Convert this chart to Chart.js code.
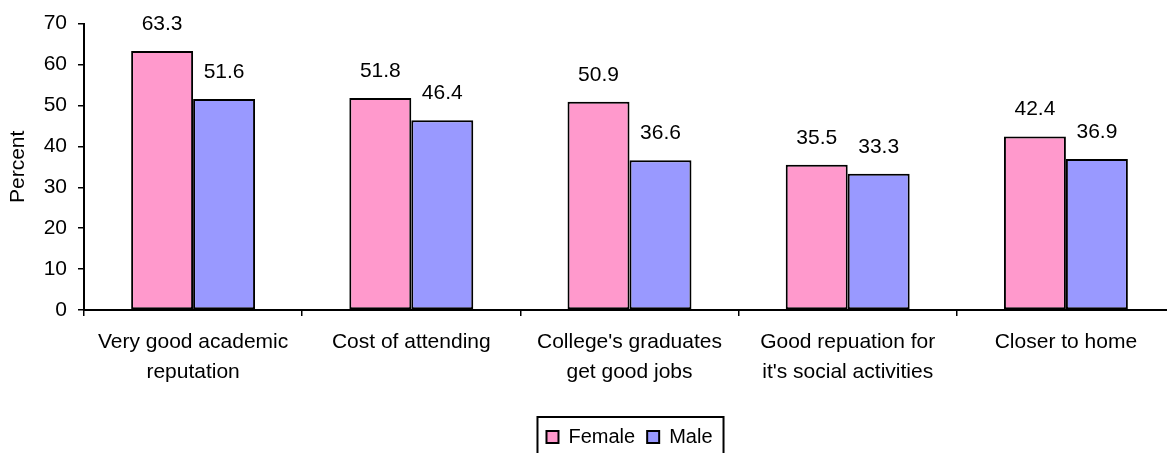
<!DOCTYPE html>
<html>
<head>
<meta charset="utf-8">
<script src="https://cdn.jsdelivr.net/npm/chart.js@4.4.1/dist/chart.umd.min.js"></script>
<style>
  html, body { margin: 0; padding: 0; background: #fff; overflow: hidden; }
  #wrap { width: 1167px; height: 453px; overflow: hidden; }
</style>
</head>
<body>
<div id="wrap"><canvas id="chart" width="1256" height="457"></canvas></div>
<script>
const categories = [
    ["Very good academic", "reputation"],
    ["Cost of attending"],
    ["College's graduates", "get good jobs"],
    ["Good repuation for", "it's social activities"],
    ["Closer to home"],
];
const femaleValues = [63.3, 51.8, 50.9, 35.5, 42.4];
const maleValues = [51.6, 46.4, 36.6, 33.3, 36.9];
const yTicks = [0, 10, 20, 30, 40, 50, 60, 70];

Chart.defaults.font.family = "'Liberation Sans', Arial, sans-serif";
Chart.defaults.color = "#000";

// numbers above each bar
const barLabels = {
    id: "barLabels",
    afterDatasetsDraw(chart) {
        const ctx = chart.ctx;
        ctx.save();
        ctx.font = "21px 'Liberation Sans', Arial, sans-serif";
        ctx.fillStyle = "#000";
        ctx.textAlign = "center";
        ctx.textBaseline = "middle";
        chart.data.datasets.forEach((ds, i) => {
            chart.getDatasetMeta(i).data.forEach((bar, j) => {
                ctx.fillText(ds.data[j].toFixed(1), bar.x, bar.y - 27);
            });
        });
        ctx.restore();
    },
};

// legend is centred under the plot area, not the whole canvas, and gets a black frame
const legendFrame = {
    id: "legendFrame",
    afterLayout(chart) {
        const lg = chart.legend;
        const shift = (chart.chartArea.left + chart.chartArea.right) / 2 - (lg.left + lg.right) / 2;
        lg.left += shift;
        lg.right += shift;
    },
    afterDraw(chart) {
        const lg = chart.legend;
        if (!lg.lineWidths) return;
        const pad = lg.options.labels.padding;
        const start = (lg.left + pad + lg.right - lg.lineWidths[0]) / 2;
        const end = start + lg.lineWidths[0] - pad;
        const ctx = chart.ctx;
        ctx.save();
        ctx.strokeStyle = "#000";
        ctx.lineWidth = 2;
        ctx.strokeRect(start - 9, lg.top + pad - 10, end - start + 20, 44);
        ctx.restore();
    },
};

new Chart(document.getElementById("chart").getContext("2d"), {
    type: "bar",
    data: {
        labels: categories,
        datasets: [
            { label: "Female", data: femaleValues, backgroundColor: "#FF99CC", borderColor: "#000", borderWidth: 2, borderSkipped: false },
            { label: "Male", data: maleValues, backgroundColor: "#9999FF", borderColor: "#000", borderWidth: 2, borderSkipped: false },
        ],
    },
    options: {
        responsive: false,
        animation: false,
        devicePixelRatio: 1,
        layout: { padding: { left: 0, right: 81, top: 20, bottom: 0 } },
        datasets: { bar: { categoryPercentage: 0.568, barPercentage: 1 } },
        plugins: {
            tooltip: { enabled: false },
            legend: {
                position: "bottom",
                labels: {
                    boxWidth: 12,
                    boxHeight: 12,
                    padding: 12,
                    font: { size: 20 },
                    color: "#000",
                },
            },
        },
        scales: {
            x: {
                grid: { display: true, drawOnChartArea: false, offset: true, tickLength: 6, color: "#000", lineWidth: 1.5 },
                border: { color: "#000", width: 2 },
                ticks: { padding: 11, maxRotation: 0, autoSkip: false, font: { size: 21, lineHeight: 1.43 }, color: "#000" },
                afterFit(scale) { scale.height = 105; },
            },
            y: {
                min: 0,
                max: 70,
                afterBuildTicks(scale) { scale.ticks = yTicks.map(v => ({ value: v })); },
                grid: { display: true, drawOnChartArea: false, tickLength: 6, color: "#000", lineWidth: 1.5 },
                border: { color: "#000", width: 2 },
                ticks: { padding: 11, font: { size: 21 }, color: "#000" },
                title: { display: true, text: "Percent", font: { size: 21 }, padding: { top: 6, bottom: 0 }, color: "#000" },
                afterFit(scale) { scale.width = 84; },
            },
        },
    },
    plugins: [barLabels, legendFrame],
});
</script>
</body>
</html>
